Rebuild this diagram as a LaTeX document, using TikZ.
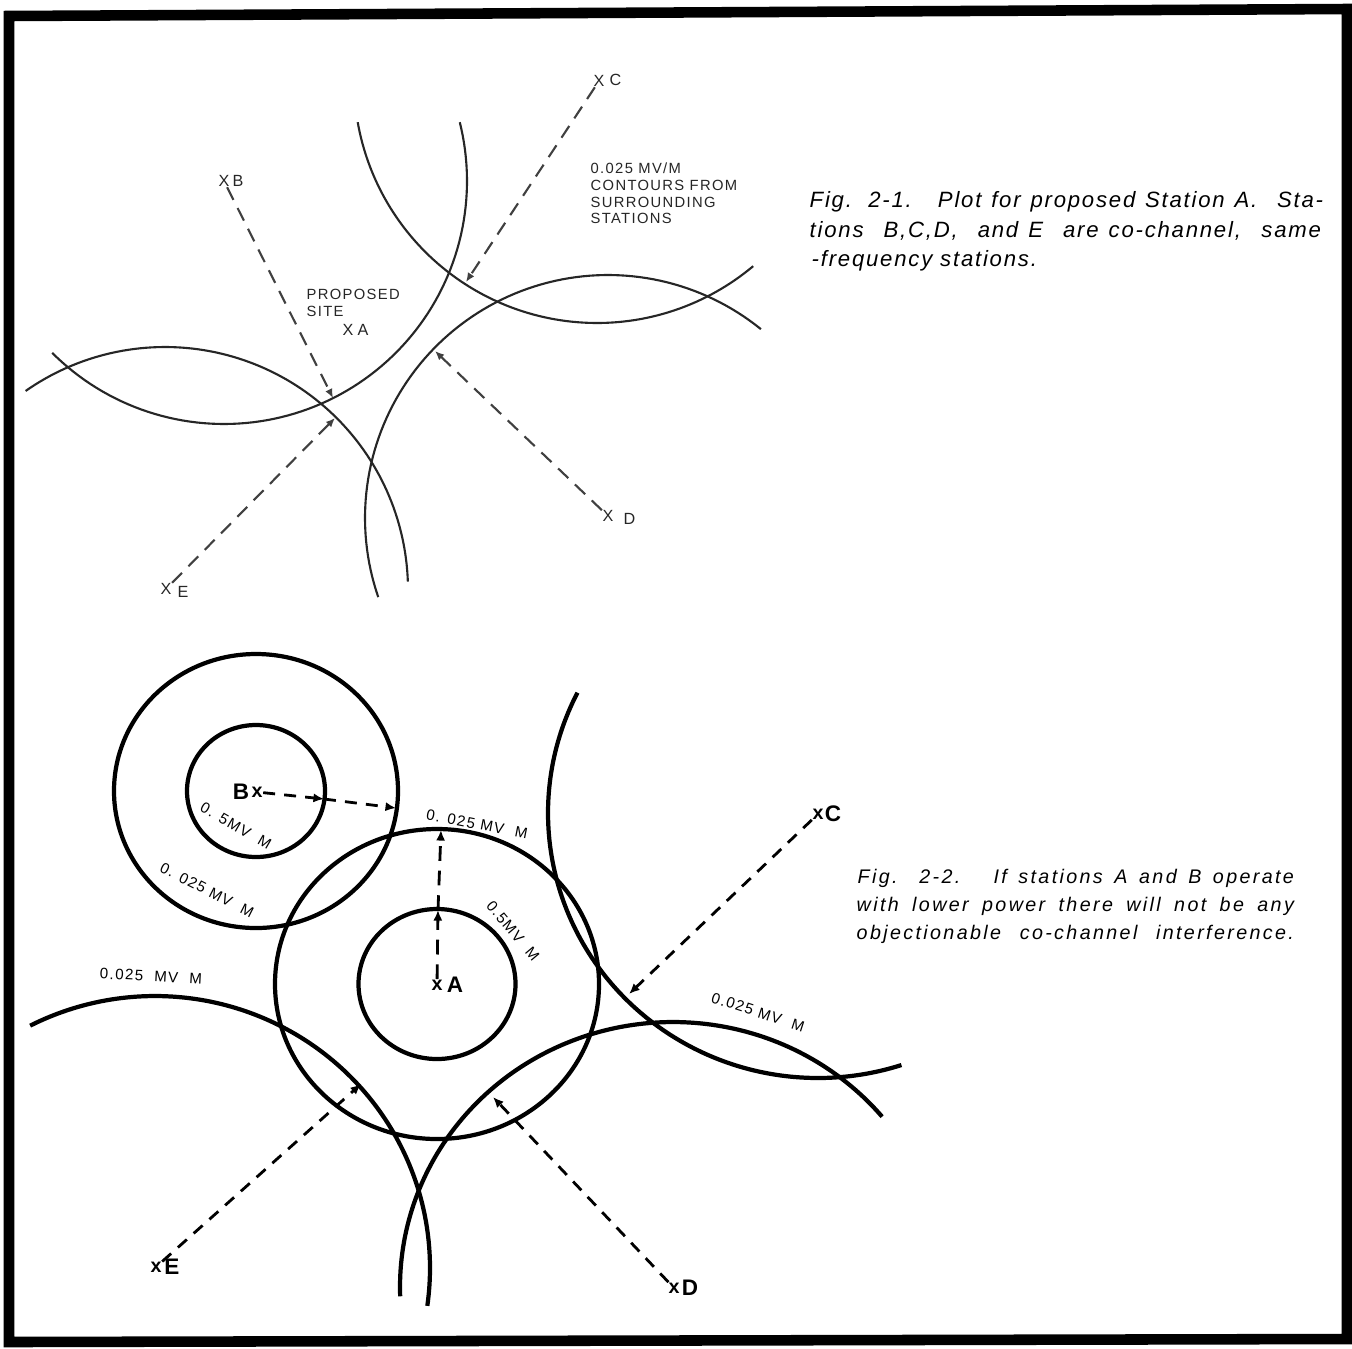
\documentclass[tikz,border=0pt]{standalone}
\usepackage{fontspec}
\usetikzlibrary{arrows.meta}
\newfontfamily\labfont[LetterSpace=9]{Liberation Sans}
\newfontfamily\capfonta[LetterSpace=8]{Liberation Sans}
\newfontfamily\capfontb[LetterSpace=12]{Liberation Sans}
\newfontfamily\stfont{Liberation Sans}
\begin{document}
\begin{tikzpicture}[x=0.01cm,y=-0.01cm,
  f1arc/.style={draw=black!85, line width=0.6pt},
  f1dash/.style={draw=black!75, line width=0.6pt, dash pattern=on 4pt off 2.6pt, -{Latex[length=2.6pt,width=2.2pt]}},
  f2arc/.style={draw=black, line width=1.2pt},
  f2dash/.style={draw=black, line width=0.8pt, dash pattern=on 3.4pt off 2.6pt, -{Latex[length=3pt,width=2.6pt]}},
  f1st/.style={inner sep=0pt, font=\stfont\fontsize{4.6pt}{5pt}\selectfont, text=black!85},
  f1txt/.style={inner sep=0pt, anchor=base west, font=\labfont\fontsize{4.2pt}{5pt}\selectfont, text=black!85},
  capa/.style={inner sep=0pt, anchor=base west, font=\capfonta\itshape\fontsize{6.3pt}{7pt}\selectfont},
  capb/.style={inner sep=0pt, anchor=base west, font=\capfontb\itshape\fontsize{5.6pt}{6.5pt}\selectfont},
  f2st/.style={inner sep=0pt, font=\stfont\bfseries\fontsize{6.4pt}{7pt}\selectfont},
  f2x/.style={inner sep=0pt, font=\stfont\bfseries\fontsize{5.6pt}{7pt}\selectfont},
  f2lab/.style={inner sep=0pt, font=\labfont\fontsize{4.3pt}{5pt}\selectfont},
  frame/.style={draw=black, line width=3pt, line join=miter}
]
\useasboundingbox (0,0) rectangle (1352,1348);
\fill[white] (0,0) rectangle (1352,1348);
\draw[frame] (9,16) -- (1347,9) -- (1347,1339) -- (9,1342) -- cycle;

% ---------------- Figure 2-1 ----------------
\draw[f1arc] plot[domain=-14:135, samples=90] ({224+243*cos(\x)},{181+243*sin(\x)});
\draw[f1arc] plot[domain=170:50, samples=90] ({597+243*cos(\x)},{80+243*sin(\x)});
\draw[f1arc] plot[domain=-51:-199, samples=90] ({608+243*cos(\x)},{518+243*sin(\x)});
\draw[f1arc] plot[domain=-125:-2, samples=90] ({165+243*cos(\x)},{590+243*sin(\x)});

\node[f1st] (B1) at (224,181) {X};
\node[f1st, anchor=west] (B1l) at (232,181) {B};
\node[f1st] (C1) at (599,81) {X};
\node[f1st, anchor=west] (C1l) at (609,80) {C};
\node[f1st] (D1) at (608,516) {X};
\node[f1st, anchor=west] (D1l) at (623,519) {D};
\node[f1st] (E1) at (166,589) {X};
\node[f1st, anchor=west] (E1l) at (177,592) {E};
\node[f1st] (A1) at (348,330) {X};
\node[f1st, anchor=west] (A1l) at (357,330) {A};

\coordinate (b1tip) at (333,398);
\coordinate (c1tip) at (466,282);
\coordinate (d1tip) at (435,351);
\coordinate (e1tip) at (335,418);
\draw[f1dash] (B1) -- (b1tip);
\draw[f1dash] (C1) -- (c1tip);
\draw[f1dash] (D1) -- (d1tip);
\draw[f1dash] (E1) -- (e1tip);

\node[f1txt] (t1) at (590,173) {0.025 MV/M};
\node[f1txt] (t2) at (590,190) {CONTOURS FROM};
\node[f1txt] (t3) at (590,207) {SURROUNDING};
\node[f1txt] (t4) at (590,223) {STATIONS};
\node[f1txt] (p1) at (306,299) {PROPOSED};
\node[f1txt] (p2) at (306,316) {SITE};

\node[capa] (ca1) at (809,207) {\makebox[5.13cm][s]{Fig. 2-1. \ Plot for proposed Station A. \ Sta-}};
\node[capa] (ca2) at (809,237) {\makebox[5.11cm][s]{tions \ B,C,D, \ and E \ are co-channel, \ same}};
\node[capa] (ca3) at (811,266) {-frequency stations.};

% ---------------- Figure 2-2 ----------------
\draw[f2arc] (256,791) ellipse[x radius=69, y radius=66];
\draw[f2arc] (256,791) ellipse[x radius=142, y radius=137];
\draw[f2arc] (437,984) ellipse[x radius=78.5, y radius=75];
\draw[f2arc] (437,984) ellipse[x radius=162, y radius=155];
\draw[f2arc] plot[domain=207:72, samples=120] ({818+270*cos(\x)},{813+265*sin(\x)});
\draw[f2arc] plot[domain=178:320, samples=120] ({673+273*cos(\x)},{1287+265*sin(\x)});
\draw[f2arc] plot[domain=243:368, samples=120] ({155+275*cos(\x)},{1268+272*sin(\x)});

\node[f2st] (B2l) at (241,792) {B};
\node[f2x] (B2) at (257,792) {x};
\node[f2x] (A2) at (437,985) {x};
\node[f2st] (A2l) at (455,985) {A};
\node[f2x] (C2) at (818,814) {x};
\node[f2st] (C2l) at (833,814) {C};
\node[f2x] (D2) at (674,1288) {x};
\node[f2st] (D2l) at (690,1288) {D};
\node[f2x] (E2) at (156,1267) {x};
\node[f2st] (E2l) at (172,1267) {E};

\coordinate (bIn) at (324,799);
\coordinate (bOut) at (396,808);
\coordinate (aIn) at (438,910);
\coordinate (aOut) at (441,830);
\coordinate (c2tip) at (629,994);
\coordinate (d2tip) at (493,1097);
\coordinate (e2tip) at (361,1084);
\draw[f2dash] (B2) -- (bIn);
\draw[f2dash] (bIn) -- (bOut);
\draw[f2dash, dash pattern=on 4.2pt off 2.8pt] (A2) -- (aIn);
\draw[f2dash, dash pattern=on 4.2pt off 2.8pt] (aIn) -- (aOut);
\draw[f2dash] (C2) -- (c2tip);
\draw[f2dash] (D2) -- (d2tip);
\draw[f2dash] (E2) -- (e2tip);

\node[f2lab, rotate=-30] (l1) at (236,826) {0. 5MV\ \ M};
\node[f2lab, rotate=-27] (l2) at (207,890) {0. 025 MV\ \ M};
\node[f2lab, rotate=-11] (l3) at (477,824) {0. 025 MV\ \ M};
\node[f2lab, rotate=-50] (l4) at (513,931) {0.5MV\ \ M};
\node[f2lab, rotate=-3] (l5) at (151,976) {0.025\ \ MV\ \ M};
\node[f2lab, rotate=-18] (l6) at (758,1012) {0.025 MV\ \ M};

\node[capb] (cb1) at (857,883) {\makebox[4.36cm][s]{Fig. 2-2. \ If stations A and B operate}};
\node[capb] (cb2) at (856,911) {\makebox[4.37cm][s]{with lower power there will not be any}};
\node[capb] (cb3) at (856,939) {\makebox[4.37cm][s]{objectionable co-channel interference.}};
\end{tikzpicture}
\end{document}
